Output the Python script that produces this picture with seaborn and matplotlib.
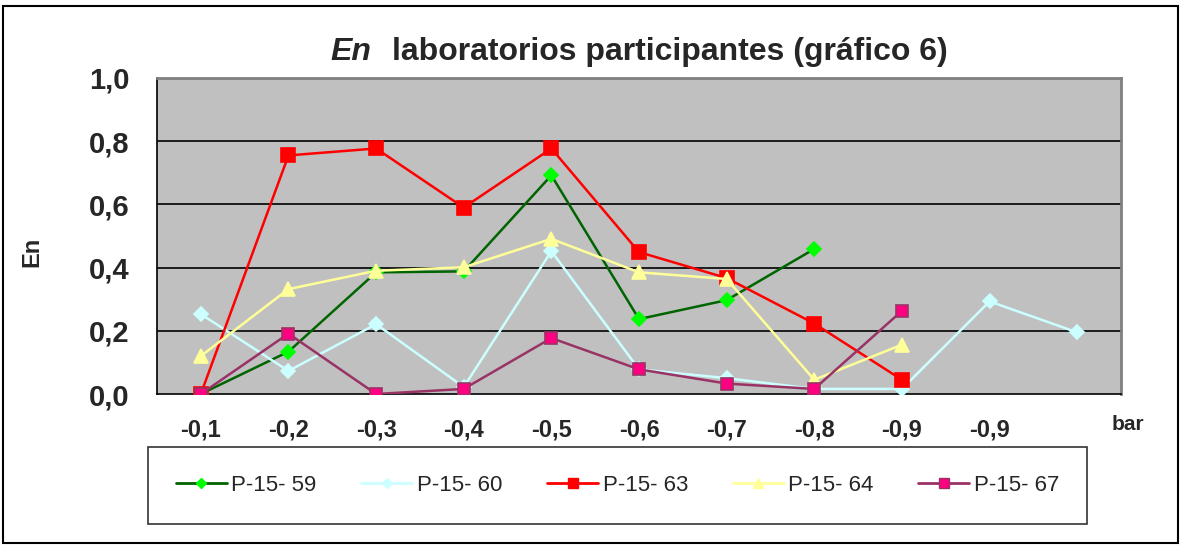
import matplotlib
matplotlib.use("Agg")
import matplotlib.pyplot as plt
from matplotlib.lines import Line2D
from matplotlib.patches import Rectangle
import seaborn as sns
import numpy as np
import pandas as pd

categories = ["-0,1", "-0,2", "-0,3", "-0,4", "-0,5", "-0,6", "-0,7", "-0,8", "-0,9", "-0,9", ""]
series_names = ["P-15- 59", "P-15- 60", "P-15- 63", "P-15- 64", "P-15- 67"]
p59 = [0.00, 0.134, 0.385, 0.388, 0.692, 0.237, 0.297, 0.459, None, None, None]
p60 = [0.253, 0.073, 0.221, 0.022, 0.452, 0.078, 0.050, 0.016, 0.016, 0.293, 0.195]
p63 = [0.00, 0.755, 0.777, 0.590, 0.777, 0.449, 0.367, 0.223, 0.045, None, None]
p64 = [0.12, 0.332, 0.390, 0.401, 0.491, 0.385, 0.364, 0.045, 0.156, None, None]
p67 = [0.00, 0.191, 0.00, 0.016, 0.177, 0.078, 0.033, 0.016, 0.263, None, None]
yticks = [0.0, 0.2, 0.4, 0.6, 0.8, 1.0]
ytick_labels = ["0,0", "0,2", "0,4", "0,6", "0,8", "1,0"]

styles = {
    "P-15- 59": dict(color="#006400", marker="D", mfc="#00FF00", mec="#00FF00", ms=7),
    "P-15- 60": dict(color="#CCFFFF", marker="D", mfc="#CCFFFF", mec="#CCFFFF", ms=7),
    "P-15- 63": dict(color="#FF0000", marker="s", mfc="#FF0000", mec="#FF0000", ms=10),
    "P-15- 64": dict(color="#FFFF99", marker="^", mfc="#FFFF99", mec="#FFFF99", ms=10),
    "P-15- 67": dict(color="#993366", marker="s", mfc="#FF0080", mec="#993366", ms=9),
}

rows = []
for name, vals in zip(series_names, [p59, p60, p63, p64, p67]):
    for i, v in enumerate(vals):
        if v is not None:
            rows.append({"pos": i, "En": v, "series": name})
df = pd.DataFrame(rows)

sns.set_theme(style="white")
plt.rcParams['font.family'] = ['Liberation Sans', 'DejaVu Sans']

fig = plt.figure(figsize=(11.82, 5.46), dpi=100)
ax = fig.add_axes([157/1182, 1-394/546, (1121-157)/1182, (394-78)/546])
ax.set_facecolor("#C0C0C0")

for name in series_names:
    st = styles[name]
    sub = df[df["series"] == name]
    sns.lineplot(data=sub, x="pos", y="En", ax=ax, color=st["color"], marker=st["marker"],
                 markerfacecolor=st["mfc"], markeredgecolor=st["mec"], markersize=st["ms"],
                 markeredgewidth=1.2, linewidth=1.8, legend=False, zorder=3)

ax.set_xlim(-0.5, len(categories) - 0.5)
ax.set_ylim(0, 1.0)
ax.set_yticks(yticks)
ax.set_yticklabels(ytick_labels, fontsize=21, fontweight="bold")
ax.set_xticks(range(len(categories)))
ax.set_xticklabels(categories, fontsize=17, fontweight="bold")
ax.set_xticks(np.arange(-0.5, len(categories), 1.0), minor=True)
ax.tick_params(axis="x", which="major", length=0, pad=18)
ax.tick_params(axis="x", which="minor", length=7, width=1, color="black", direction="out")
ax.tick_params(axis="y", which="major", length=7, width=1, color="black", direction="out", pad=13)
for y in yticks[1:-1]:
    ax.axhline(y, color="black", linewidth=1.2, zorder=1)
ax.axhline(1.0, color="#808080", linewidth=1.5, zorder=1)
ax.set_xlabel("")
ax.set_ylabel("")
for s in ["left", "bottom"]:
    ax.spines[s].set_color("black")
    ax.spines[s].set_linewidth(1.2)
for s in ["top", "right"]:
    ax.spines[s].set_color("#808080")
    ax.spines[s].set_linewidth(2)

fig.text(32/1182, 1-252/546, "En", fontsize=17, fontweight="bold", rotation=90, va="center", ha="center")
fig.text(1112/1182, 1-424/546, "bar", fontsize=15, fontweight="bold", va="center", ha="left")

fig.text(330/1182, 1-60/546, "En", fontsize=23, fontweight="bold", fontstyle="italic", va="baseline", ha="left")
fig.text(392/1182, 1-60/546, "laboratorios participantes (gráfico 6)", fontsize=23, fontweight="bold",
         va="baseline", ha="left")

handles = []
for name in series_names:
    st = styles[name]
    handles.append(Line2D([], [], color=st["color"], marker=st["marker"], markerfacecolor=st["mfc"],
                          markeredgecolor=st["mec"], markersize=st["ms"]*0.75, linewidth=2))
leg = fig.legend(handles, series_names, ncol=5, loc="center",
                 bbox_to_anchor=(148/1182, 1-523/546, (1087-148)/1182, (523-448)/546),
                 mode="expand", fontsize=16, frameon=True, fancybox=False, handlelength=2.3,
                 handletextpad=0.2, borderaxespad=0, borderpad=1.25)
leg.get_frame().set_edgecolor("black")
leg.get_frame().set_linewidth(1.2)

fig.patches.append(Rectangle((3/1182, 3/546), 1-7/1182, 1-9/546, transform=fig.transFigure,
                             fill=False, edgecolor="black", linewidth=1.5))

fig.savefig("out.png", dpi=100, facecolor="white")
